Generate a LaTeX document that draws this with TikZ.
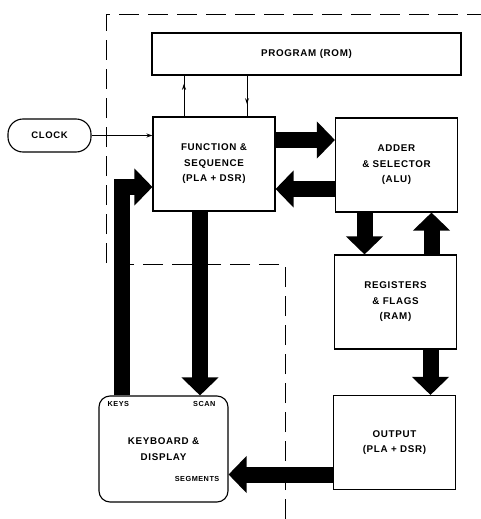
\documentclass[tikz,border=0pt]{standalone}
\usepackage{fontspec}
\setmainfont{Liberation Sans}[LetterSpace=7]
\usetikzlibrary{arrows.meta, positioning, decorations.markings}

\begin{document}
\begin{tikzpicture}[x=1pt, y=-1pt,
  block/.style={draw, line width=1.1pt, minimum width=122pt, minimum height=94pt,
    inner sep=0pt, align=center, font=\bfseries\fontsize{9.8}{15.5}\selectfont},
  tag/.style={inner sep=0pt, font=\bfseries\fontsize{7.3}{8}\selectfont},
  bigarrow/.style={line width=16pt, -{Triangle[width=36pt, length=18pt]}},
  wire/.style={line width=0.9pt},
  midtip/.style={postaction={decorate}, decoration={markings,
    mark=at position #1 with {\arrow{Stealth[length=6pt, width=4pt]}}}}]
\useasboundingbox (0,0) rectangle (481,519);

% Chip boundary
\draw[line width=1pt, dash pattern=on 20pt off 9pt]
  (285,519) -- (285,264) -- (106,264) -- (106,15) -- (481,15);

% Blocks
\node[block, minimum width=309pt, minimum height=42pt] (rom) at (306.5,54) {PROGRAM (ROM)};
\node[block] (func) at (214,164) {FUNCTION \&\\SEQUENCE\\(PLA + DSR)};
\node[block] (alu) at (396.5,165) {ADDER\\\& SELECTOR\\(ALU)};
\node[block] (regs) at (395.5,302) {REGISTERS\\\& FLAGS\\(RAM)};
\node[block] (out) at (394.5,442.5) {OUTPUT\\(PLA + DSR)};
\node[block, rounded corners=11pt, minimum width=129pt, minimum height=106pt] (kbd) at (163.5,449)
  {KEYBOARD \&\\DISPLAY};
\node[draw, line width=1.1pt, rounded corners=15pt, minimum width=83pt, minimum height=33pt,
  font=\bfseries\fontsize{9.5}{10}\selectfont] (clk) at (49.5,135.5) {CLOCK};

% Port labels
\node[tag, anchor=north west] (keys) at ([shift={(9,6)}]kbd.north west) {KEYS};
\node[tag, anchor=north east] (scan) at ([shift={(-13,6)}]kbd.north east) {SCAN};
\node[tag, anchor=east] (segs) at ([shift={(-9,30)}]kbd.east) {SEGMENTS};

% Thin connectors
\coordinate (adr) at (184,0);
\coordinate (ins) at (247,0);
\draw[wire, midtip=0.8] (func.north -| adr) -- (rom.south -| adr);
\draw[wire, midtip=0.7] (rom.south -| ins) -- (func.north -| ins);
\draw[wire, -{Stealth[length=6pt, width=4pt]}] (clk.east) -- (clk.east -| func.west);

% Data paths
\draw[bigarrow] ([yshift=24pt]func.east) -- ([yshift=24pt]func.east -| alu.west);
\draw[bigarrow] ([yshift=-24pt]alu.west) -- ([yshift=-24pt]alu.west -| func.east);
\draw[bigarrow] ([xshift=-32pt]alu.south) -- ([xshift=-32pt]alu.south |- regs.north);
\draw[bigarrow] ([xshift=36pt]regs.north) -- ([xshift=36pt]regs.north |- alu.south);
\draw[bigarrow] ([xshift=35pt]regs.south) -- ([xshift=35pt]regs.south |- out.north);
\draw[bigarrow] ([yshift=-32pt]out.west) -- ([yshift=-32pt]out.west -| kbd.east);
\draw[bigarrow] ([xshift=-14pt]func.south) -- ([xshift=-14pt]func.south |- kbd.north);
\draw[bigarrow] ([xshift=-42pt]kbd.north) |- ([yshift=-23pt]func.west);

\end{tikzpicture}
\end{document}
